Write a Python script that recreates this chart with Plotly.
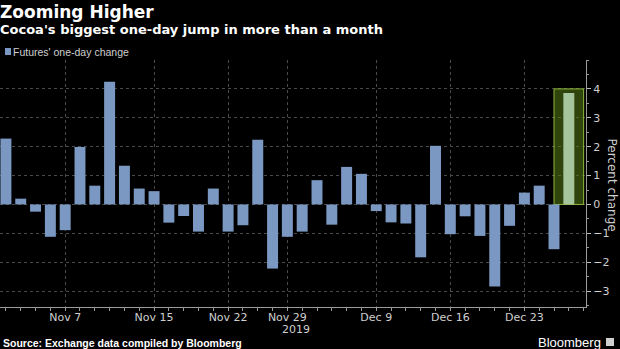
import plotly.graph_objects as go

# ---- data ----
dates = ["Nov 1", "Nov 4", "Nov 5", "Nov 6", "Nov 7", "Nov 8", "Nov 11", "Nov 12", "Nov 13",
         "Nov 14", "Nov 15", "Nov 18", "Nov 19", "Nov 20", "Nov 21", "Nov 22", "Nov 25",
         "Nov 26", "Nov 27", "Nov 29", "Dec 2", "Dec 3", "Dec 4", "Dec 5", "Dec 6", "Dec 9",
         "Dec 10", "Dec 11", "Dec 12", "Dec 13", "Dec 16", "Dec 17", "Dec 18", "Dec 19",
         "Dec 20", "Dec 23", "Dec 24", "Dec 26", "Dec 27"]
change = [2.28, 0.20, -0.25, -1.12, -0.89, 1.99, 0.65, 4.25, 1.34, 0.55, 0.46, -0.63, -0.40,
          -0.94, 0.55, -0.94, -0.72, 2.24, -2.22, -1.12, -0.94, 0.84, -0.70, 1.30, 1.06, -0.23,
          -0.62, -0.66, -1.83, 2.03, -1.03, -0.41, -1.09, -2.84, -0.74, 0.41, 0.65, -1.55, 3.86]
label_dates = ["Nov 7", "Nov 15", "Nov 22", "Nov 29", "Dec 9", "Dec 16", "Dec 23"]
year_label = "2019"
y_ticks = [-3, -2, -1, 0, 1, 2, 3, 4]

BAR = "#7b98c2"
HILITE_BAR = "#a6c59c"

x = list(range(len(dates)))
last = len(dates) - 1
colors = [BAR] * len(dates)
colors[last] = HILITE_BAR

fig = go.Figure()
fig.add_trace(go.Bar(
    x=x, y=change, customdata=dates, marker=dict(color=colors, line=dict(width=0)),
    name="Futures' one-day change", showlegend=False,
    hovertemplate="%{customdata}: %{y:.2f}%<extra></extra>",
))

fig.add_shape(type="rect", xref="x", yref="y", x0=last - 1, x1=last + 1, y0=0, y1=4,
              fillcolor="rgba(85,125,22,0.55)", line=dict(color="#8fb83c", width=1),
              layer="between")

grid = "#4a4a4a"
fig.update_layout(
    width=620, height=349,
    margin=dict(l=0, r=34, t=60, b=42),
    paper_bgcolor="black", plot_bgcolor="black",
    bargap=0.26,
    font=dict(family="DejaVu Sans", color="#cfcfcf", size=11),
    showlegend=False,
    xaxis=dict(
        range=[-0.4, 39.16], tickmode="array",
        tickvals=[dates.index(d) for d in label_dates], ticktext=label_dates,
        showgrid=True, gridcolor=grid, griddash="dot", gridwidth=1,
        zeroline=False, showline=True, linecolor="#9a9a9a", linewidth=1,
        ticks="",
        minor=dict(dtick=1, tick0=0, ticks="outside", ticklen=3, tickcolor="#9a9a9a", showgrid=False),
        tickfont=dict(size=11, color="#cfcfcf", family="DejaVu Sans"),
        fixedrange=True,
    ),
    yaxis=dict(
        side="right", range=[-3.55, 5], tickvals=y_ticks,
        showgrid=True, gridcolor=grid, griddash="dot", gridwidth=1,
        zeroline=False, showline=True, linecolor="#9a9a9a", linewidth=1,
        ticks="outside", ticklen=4, tickcolor="#bdbdbd",
        minor=dict(dtick=0.5, tick0=0, ticks="outside", ticklen=2, tickcolor="#9a9a9a", showgrid=False),
        tickfont=dict(size=11, color="#cfcfcf", family="DejaVu Sans"),
        fixedrange=True,
    ),
)

# axis title (reads top-to-bottom)
fig.add_annotation(text="Percent change", xref="paper", yref="paper", x=1, y=0.5,
                   xanchor="center", yanchor="middle", showarrow=False, textangle=90,
                   xshift=26, yshift=-1, font=dict(size=12, color="#cfcfcf", family="DejaVu Sans"))
# year label centred under the axis
fig.add_annotation(text=year_label, xref="paper", yref="paper", x=0.5045, y=0,
                   xanchor="center", yanchor="top", showarrow=False, yshift=-14,
                   font=dict(size=11, color="#cfcfcf", family="DejaVu Sans"))

# titles
fig.add_annotation(text="<b>Zooming Higher</b>", xref="paper", yref="paper", x=0, y=1,
                   xanchor="left", yanchor="top", showarrow=False, xshift=-2,
                   yshift=60, font=dict(size=17, color="white", family="DejaVu Sans"))
fig.add_annotation(text="<b>Cocoa's biggest one-day jump in more than a month</b>", xref="paper",
                   yref="paper", x=0, y=1, xanchor="left", yanchor="top", showarrow=False,
                   xshift=-2, yshift=40, font=dict(size=13, color="white", family="DejaVu Sans"))
# legend
fig.add_shape(type="rect", xref="paper", yref="paper", x0=0, x1=0, y0=1, y1=1,
              xsizemode="pixel", ysizemode="pixel", xanchor=0, yanchor=1,
              line=dict(width=0), fillcolor=BAR)
fig.layout.shapes[-1].update(x0=5, x1=11, y0=5, y1=12)
fig.add_annotation(text="Futures' one-day change", xref="paper", yref="paper", x=0, y=1,
                   xanchor="left", yanchor="middle", showarrow=False, xshift=11, yshift=8,
                   font=dict(size=10.5, color="#cfcfcf", family="Liberation Sans"))
# footer
fig.add_annotation(text="<b>Source: Exchange data compiled by Bloomberg</b>", xref="paper",
                   yref="paper", x=0, y=0, xanchor="left", yanchor="middle", showarrow=False,
                   xshift=1, yshift=-36, font=dict(size=10.5, color="white", family="Liberation Sans"))
fig.add_annotation(text="Bloomberg", xref="paper", yref="paper", x=1, y=0,
                   xanchor="right", yanchor="middle", showarrow=False,
                   xshift=17, yshift=-35, font=dict(size=13, color="white", family="Liberation Sans"))
fig.add_shape(type="rect", xref="paper", yref="paper", x0=1, x1=1, y0=0, y1=0,
              xsizemode="pixel", ysizemode="pixel", xanchor=1, yanchor=0,
              line=dict(width=0), fillcolor="#d0d0d0")
fig.layout.shapes[-1].update(x0=20, x1=28, y0=-39, y1=-31)

fig.write_html("out.html")
